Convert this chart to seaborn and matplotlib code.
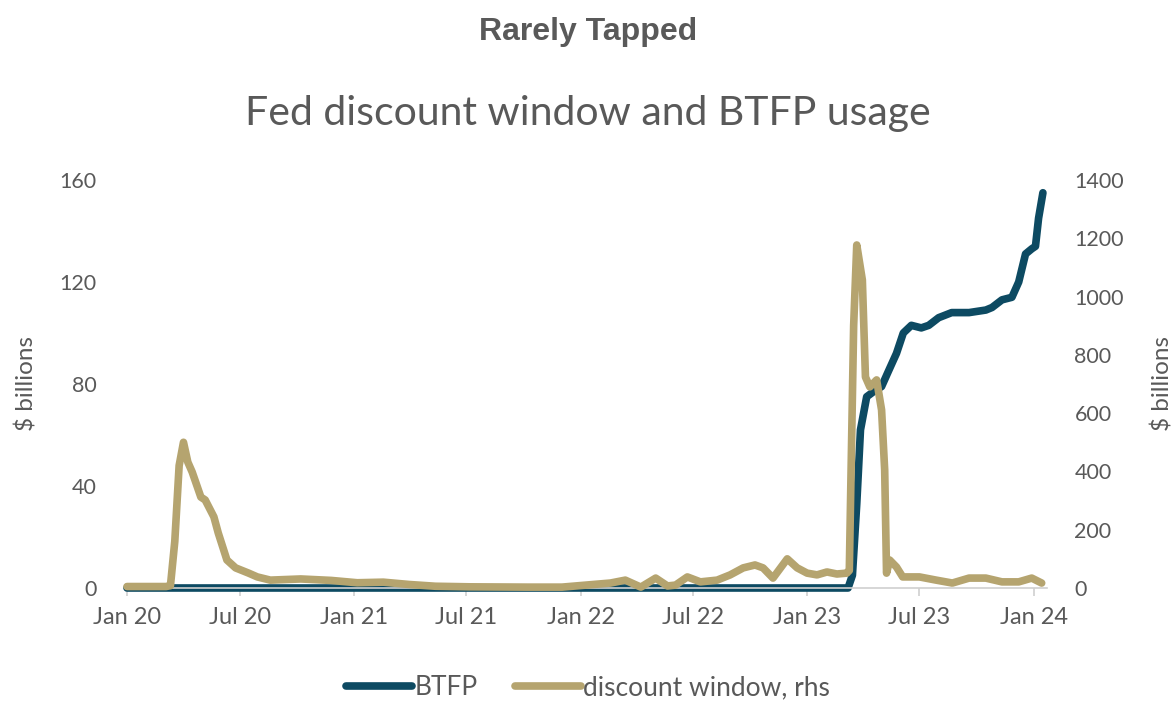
import pandas as pd
import matplotlib
matplotlib.use("Agg")
import matplotlib.pyplot as plt
import seaborn as sns

# discount window usage, right-hand scale
dw_dates = [
    "2020-01-01", "2020-03-04", "2020-03-11", "2020-03-18", "2020-03-25", "2020-04-01",
    "2020-04-08", "2020-04-15", "2020-04-29", "2020-05-06", "2020-05-20", "2020-05-27",
    "2020-06-10", "2020-06-24", "2020-07-15", "2020-07-29", "2020-08-19", "2020-10-07",
    "2020-11-25", "2021-01-06", "2021-02-17", "2021-03-31", "2021-05-12", "2021-07-07",
    "2021-10-06", "2021-12-02", "2022-02-18", "2022-03-14", "2022-04-08", "2022-05-02",
    "2022-05-21", "2022-06-03", "2022-06-22", "2022-07-13", "2022-08-09", "2022-08-30",
    "2022-09-20", "2022-10-09", "2022-10-22", "2022-11-07", "2022-11-30", "2022-12-16",
    "2023-01-01", "2023-01-17", "2023-02-02", "2023-02-18", "2023-03-06", "2023-03-10",
    "2023-03-17", "2023-03-22", "2023-03-31", "2023-04-05", "2023-04-12", "2023-04-23",
    "2023-05-01", "2023-05-06", "2023-05-09", "2023-05-14", "2023-05-25", "2023-06-04",
    "2023-07-01", "2023-07-28", "2023-08-23", "2023-09-19", "2023-10-16", "2023-11-11",
    "2023-12-08", "2023-12-29", "2024-01-14",
]
dw_values = [
    5, 5, 8, 160, 420, 500,
    432, 398, 312, 302, 244, 189,
    96, 69, 51, 38, 27, 31,
    26, 18, 20, 12, 6, 4,
    3, 3, 17, 27, 3, 34,
    7, 10, 38, 21, 27, 45,
    69, 79, 69, 34, 100, 69,
    51, 45, 55, 48, 51, 60,
    900, 1177, 1057, 724, 690, 714,
    611, 405, 51, 96, 72, 38,
    38, 27, 17, 34, 34, 21,
    21, 34, 17,
]

# BTFP usage, left-hand scale
btfp_dates = [
    "2020-01-01", "2023-03-08", "2023-03-15", "2023-03-22", "2023-03-28", "2023-04-07",
    "2023-04-18", "2023-05-01", "2023-05-12", "2023-05-25", "2023-06-05", "2023-06-18",
    "2023-07-04", "2023-07-16", "2023-08-01", "2023-08-22", "2023-09-19", "2023-10-16",
    "2023-10-26", "2023-11-11", "2023-11-27", "2023-12-08", "2023-12-19", "2023-12-29",
    "2024-01-04", "2024-01-09", "2024-01-16",
]
btfp_values = [
    0, 0, 5, 33, 62, 75,
    77, 79, 85, 92, 100, 103,
    102, 103, 106, 108, 108, 109,
    110, 113, 114, 120, 131, 133,
    134, 145, 155,
]

x_ticks = ["2020-01-01", "2020-07-01", "2021-01-01", "2021-07-01", "2022-01-01",
           "2022-07-01", "2023-01-01", "2023-07-01", "2024-01-01"]
x_labels = ["Jan 20", "Jul 20", "Jan 21", "Jul 21", "Jan 22",
            "Jul 22", "Jan 23", "Jul 23", "Jan 24"]

dw = pd.DataFrame({"date": pd.to_datetime(dw_dates), "value": dw_values})
btfp = pd.DataFrame({"date": pd.to_datetime(btfp_dates), "value": btfp_values})

sns.set_style("white")
plt.rcParams["font.family"] = ["Lato", "DejaVu Sans"]

navy = "#0d4a62"
gold = "#b5a46f"
grey = "#595959"

fig = plt.figure(figsize=(11.76, 7.02), dpi=100)
ax = fig.add_axes([0.108, 0.1624, 0.782, 0.5812])
ax2 = ax.twinx()

sns.lineplot(data=btfp, x="date", y="value", ax=ax, color=navy, linewidth=5.5,
             solid_capstyle="round", label="BTFP", legend=False, clip_on=False)
sns.lineplot(data=dw, x="date", y="value", ax=ax2, color=gold, linewidth=5.5,
             solid_capstyle="round", label="discount window, rhs", legend=False,
             clip_on=False)

ax.set_xlim(pd.Timestamp("2020-01-01"), pd.Timestamp("2024-01-22"))
ax.set_ylim(0, 160)
ax2.set_ylim(0, 1400)
ax.set_yticks([0, 40, 80, 120, 160])
ax2.set_yticks(range(0, 1401, 200))
ax.set_xticks(pd.to_datetime(x_ticks))
ax.set_xticklabels(x_labels)

for a in (ax, ax2):
    for s in ("top", "right", "left", "bottom"):
        a.spines[s].set_visible(False)
ax.spines["bottom"].set_visible(True)
ax.spines["bottom"].set_color("#d0d0d0")
ax.spines["bottom"].set_linewidth(1.2)

ax.tick_params(axis="x", colors="#d0d0d0", labelcolor=grey, labelsize=17,
               length=6, width=1.2, direction="out", pad=8, bottom=True)
ax.tick_params(axis="y", labelcolor=grey, labelsize=15.5, length=0, pad=22)
ax2.tick_params(axis="y", labelcolor=grey, labelsize=15.5, length=0, pad=20)

ax.set_xlabel("")
ax.set_ylabel("$ billions", color=grey, fontsize=17.5, labelpad=16)
ax2.set_ylabel("$ billions", color=grey, fontsize=17.5, labelpad=20)

fig.text(0.5, 0.954, "Rarely Tapped", ha="center", va="center", fontsize=23,
         fontweight="bold", color=grey, family=["Liberation Sans", "DejaVu Sans"])
fig.text(0.5, 0.838, "Fed discount window and BTFP usage", ha="center", va="center",
         fontsize=29.5, color=grey)

h1, l1 = ax.get_legend_handles_labels()
h2, l2 = ax2.get_legend_handles_labels()
fig.legend(h1 + h2, l1 + l2, loc="center", bbox_to_anchor=(0.5, 0.02), ncol=2,
           frameon=False, fontsize=19, handlelength=2.5, handletextpad=0.1,
           columnspacing=1.4, labelcolor=grey)

fig.savefig("out.png", dpi=100)
